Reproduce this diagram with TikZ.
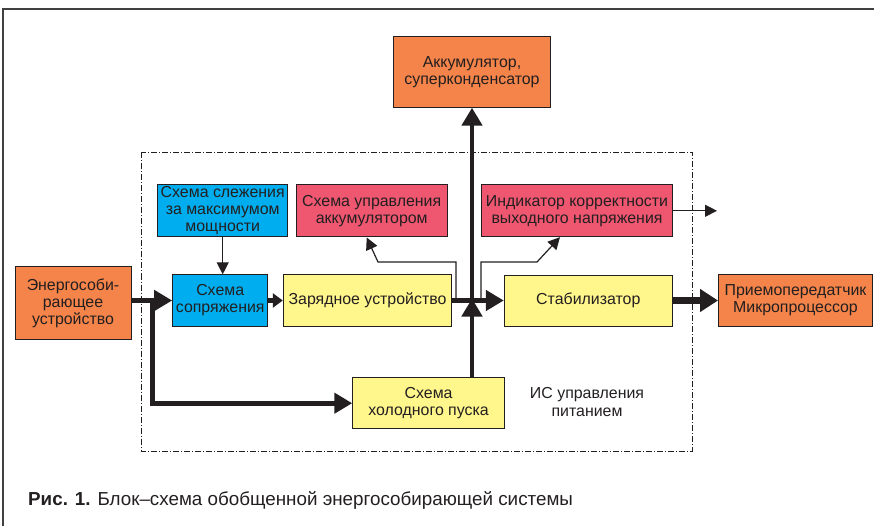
\documentclass[tikz,border=0pt]{standalone}
\usepackage{fontspec}
\setmainfont{Liberation Sans}
\newfontfamily\capfont{Liberation Sans}
\usetikzlibrary{arrows.meta}
\definecolor{ink}{HTML}{231F20}
\definecolor{orng}{HTML}{F48449}
\definecolor{cyanb}{HTML}{00AEEF}
\definecolor{pinkr}{HTML}{EF5670}
\definecolor{yel}{HTML}{FFF68C}
\begin{document}
\begin{tikzpicture}[x=1pt,y=-1pt,
  box/.style={draw=ink, line width=1pt, inner sep=0pt, align=center,
    font=\fontsize{15.9}{17}\selectfont, text=ink},
  orbox/.style={box, fill=orng},
  cybox/.style={box, fill=cyanb},
  pkbox/.style={box, fill=pinkr},
  ylbox/.style={box, fill=yel},
  bigarrow/.style={draw=ink, line width=5.5pt, -{Triangle[length=18pt,width=20pt]}},
  midarrow/.style={draw=ink, line width=5.5pt, -{Triangle[length=10pt,width=14pt]}},
  vertarrow/.style={draw=ink, line width=4.5pt, -{Triangle[length=18pt,width=20pt]}},
  thinarrow/.style={draw=ink, line width=1.2pt, -{Triangle[length=12pt,width=12pt]}},
  dashframe/.style={draw=ink, line width=0.8pt, dash pattern=on 6pt off 2pt on 1pt off 2pt}
]
\useasboundingbox (0,0) rectangle (874,526);
% outer frame
\draw[line width=2pt, draw=black!75] (3,526) -- (3,9) -- (874,9);
% dash-dot frame
\draw[dashframe] (141.5,152.5) rectangle (692,451);

% boxes
\node[orbox, minimum width=157pt, minimum height=71pt] (akk) at (472,71.7) {Аккумулятор,\\суперконденсатор};
\node[orbox, minimum width=116pt, minimum height=73pt] (energ) at (73,303.3) {Энергособи-\\рающее\\устройство};
\node[cybox, minimum width=129.5pt, minimum height=51.7pt] (sled) at (222.7,210.8) {Схема слежения\\за максимумом\\мощности};
\node[pkbox, minimum width=151.3pt, minimum height=52pt] (upr) at (371.7,211) {Схема управления\\аккумулятором};
\node[pkbox, minimum width=190.6pt, minimum height=51.7pt] (ind) at (577,210.8) {Индикатор корректности\\выходного напряжения};
\node[cybox, minimum width=95pt, minimum height=51.4pt] (sopr) at (220.2,300.5) {Схема\\сопряжения};
\node[ylbox, minimum width=168.4pt, minimum height=51.4pt] (zar) at (367.5,300.5) {Зарядное устройство};
\node[ylbox, minimum width=168pt, minimum height=51pt] (stab) at (588.3,300.5) {Стабилизатор};
\node[orbox, minimum width=154pt, minimum height=51.3pt] (prm) at (795.5,300.5) {Приемопередатчик\\Микропроцессор};
\node[ylbox, minimum width=151.7pt, minimum height=51.5pt] (chol) at (428.6,403.2) {Схема\\холодного пуска};
\node[align=center, inner sep=0pt, text=ink, font=\fontsize{15.9}{18}\selectfont] (ic) at (587,402) {ИС управления\\питанием};

% coordinates
\coordinate (ml) at (0,300.5);
\coordinate (br) at (152.5,300.5);
\coordinate (tl) at (456,300.5);
\coordinate (tr) at (481,300.5);
\coordinate (vx) at (472,300.5);
\coordinate (indout) at (717,210.8);

% thick connectors
\draw[bigarrow] (energ.east |- ml) -- (sopr.west);
\draw[line width=5pt, draw=ink, -{Triangle[length=18pt,width=20pt]}] (br) |- (chol.west);
\draw[midarrow] (sopr.east) -- (zar.west);
\draw[bigarrow] (zar.east) -- (stab.west);
\draw[line width=7pt, draw=ink, -{Triangle[length=18pt,width=22pt]}] (stab.east) -- (prm.west);
\draw[vertarrow] (vx) -- (akk.south);
\draw[vertarrow] (chol.north -| vx) -- ([yshift=2pt]vx);

% thin connectors
\draw[thinarrow] (sled.south) -- (sopr.north -| sled.south);
\draw[thinarrow] (tl) -- (456,262) -- (378,262) -- ([xshift=-5pt]upr.south);
\draw[thinarrow] (tr) -- (481,262) -- (537,262) -- ([xshift=-17pt]ind.south);
\draw[thinarrow] (ind.east) -- (indout);

% caption
\node[anchor=base west, inner sep=0pt, text=ink, font=\capfont\fontsize{18.8}{21}\selectfont] (cap) at (28,505) {\textbf{Рис. 1.} Блок–схема обобщенной энергособирающей системы};
\end{tikzpicture}
\end{document}
